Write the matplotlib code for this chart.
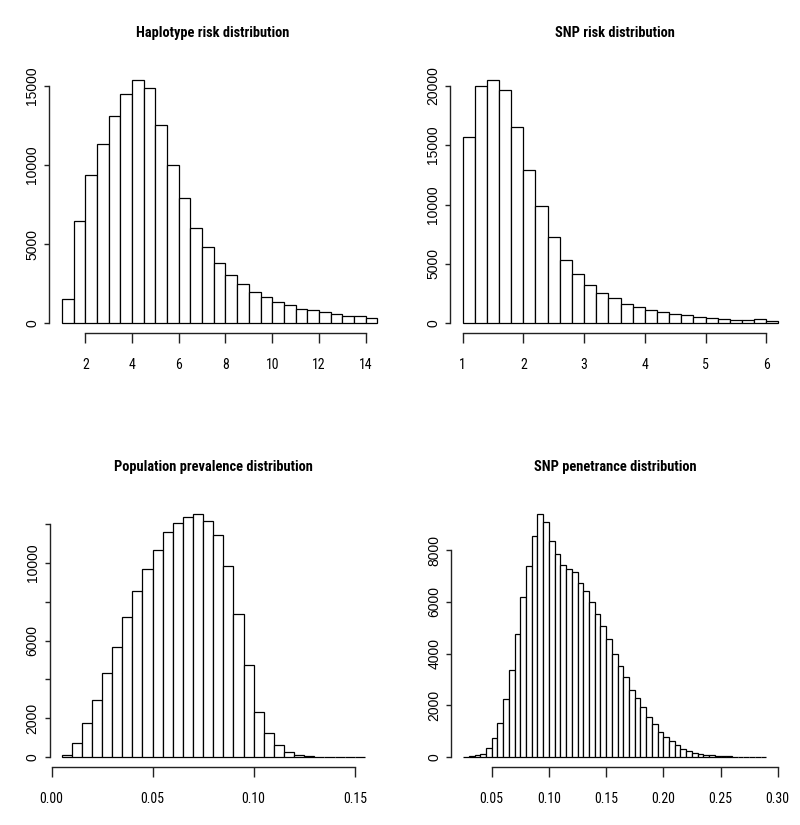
import matplotlib
matplotlib.use("Agg")
import matplotlib.pyplot as plt
from matplotlib import font_manager
import numpy as np

# ---------------- data ----------------
hap_title = "Haplotype risk distribution"
hap_start, hap_width = 1.0, 0.5
hap_counts = [1510, 6450, 9380, 11300, 13070, 14450, 15360, 14870, 12500, 10000,
              7890, 6020, 4820, 3810, 3070, 2500, 2000, 1640, 1370, 1140,
              930, 820, 720, 610, 460, 440, 340]
hap_xticks = [2, 4, 6, 8, 10, 12, 14]
hap_xlabels = ["2", "4", "6", "8", "10", "12", "14"]
hap_yticks = [0, 5000, 10000, 15000]
hap_ylabels = ["0", "5000", "10000", "15000"]

snp_title = "SNP risk distribution"
snp_start, snp_width = 1.0, 0.2
snp_counts = [15650, 19940, 20480, 19660, 16550, 12880, 9850, 7240, 5300, 4120,
              3200, 2580, 2100, 1630, 1370, 1150, 950, 810, 670, 560,
              420, 340, 310, 310, 340, 170]
snp_xticks = [1, 2, 3, 4, 5, 6]
snp_xlabels = ["1", "2", "3", "4", "5", "6"]
snp_yticks = [0, 5000, 10000, 15000, 20000]
snp_ylabels = ["0", "5000", "10000", "15000", "20000"]

prev_title = "Population prevalence distribution"
prev_start, prev_width = 0.005, 0.005
prev_counts = [100, 750, 1780, 2930, 4350, 5670, 7200, 8550, 9660, 10660,
               11600, 12060, 12370, 12520, 12150, 11410, 9830, 7380, 4750, 2350,
               1230, 610, 270, 120, 60, 25, 15, 10, 8, 5]
prev_xticks = [0.00, 0.05, 0.10, 0.15]
prev_xlabels = ["0.00", "0.05", "0.10", "0.15"]
prev_yticks = [0, 2000, 4000, 6000, 8000, 10000, 12000]
prev_ylabels = ["0", "2000", "", "6000", "", "10000", ""]

pen_title = "SNP penetrance distribution"
pen_start, pen_width = 0.025, 0.005
pen_counts = [20, 30, 90, 140, 360, 760, 1310, 2260, 3380, 4740,
              6200, 7370, 8560, 9400, 9080, 8330, 7860, 7440, 7280, 7140,
              6710, 6420, 6010, 5540, 5050, 4560, 4000, 3540, 3080, 2600,
              2270, 1950, 1570, 1280, 980, 790, 630, 460, 330, 250,
              180, 130, 90, 70, 55, 45, 35, 25, 20, 15,
              10, 8, 5]
pen_xticks = [0.05, 0.10, 0.15, 0.20, 0.25, 0.30]
pen_xlabels = ["0.05", "0.10", "0.15", "0.20", "0.25", "0.30"]
pen_yticks = [0, 2000, 4000, 6000, 8000]
pen_ylabels = ["0", "2000", "4000", "6000", "8000"]

# ---------------- fonts ----------------
names = {f.name for f in font_manager.fontManager.ttflist}
narrow = "Liberation Sans"
for cand in ["Liberation Sans Narrow", "Arial Narrow", "Roboto Condensed",
             "Archivo Narrow", "Barlow Semi Condensed", "Asap Condensed"]:
    if cand in names:
        narrow = cand
        break
if narrow == "Liberation Sans":
    title_size, xtick_size = 9.0, 8.0
else:
    title_size, xtick_size = 10.4, 10.0
regular = "Liberation Sans"

W, H = 800, 825
fig = plt.figure(figsize=(W / 100, H / 100), dpi=100)
fig.patch.set_facecolor("white")

# axes rectangles in pixel coords (left, right, top, bottom) from top-left
rects = [
    (49.3, 390.0, 70.3, 333.0),
    (450.0, 791.0, 70.3, 333.0),
    (49.5, 377.0, 504.0, 767.0),
    (451.0, 778.4, 504.0, 767.0),
]
title_pos = [(212.5, 33.3), (615.0, 33.3), (213.3, 466.7), (615.5, 466.7)]

panels = [
    (hap_title, hap_start, hap_width, hap_counts, hap_xticks, hap_xlabels, hap_yticks, hap_ylabels),
    (snp_title, snp_start, snp_width, snp_counts, snp_xticks, snp_xlabels, snp_yticks, snp_ylabels),
    (prev_title, prev_start, prev_width, prev_counts, prev_xticks, prev_xlabels, prev_yticks, prev_ylabels),
    (pen_title, pen_start, pen_width, pen_counts, pen_xticks, pen_xlabels, pen_yticks, pen_ylabels),
]

for (title, start, width, counts, xt, xl, yt, yl), (l, r, t, b), (tx, ty) in zip(panels, rects, title_pos):
    ax = fig.add_axes([l / W, 1 - b / H, (r - l) / W, (b - t) / H])
    counts = np.asarray(counts, dtype=float)
    edges = start + width * np.arange(len(counts) + 1)
    ax.bar(edges[:-1], counts, width=width, align="edge",
           facecolor="white", edgecolor="black", linewidth=0.9)
    lo, hi = edges[0], edges[-1]
    rng = hi - lo
    ax.set_xlim(lo - 0.04 * rng, hi + 0.04 * rng)
    ymax = counts.max()
    ax.set_ylim(-0.04 * ymax, 1.04 * ymax)

    for s in ["top", "right"]:
        ax.spines[s].set_visible(False)
    for s in ["left", "bottom"]:
        ax.spines[s].set_linewidth(1.0)
        ax.spines[s].set_color("#222222")
    ax.spines["left"].set_bounds(yt[0], yt[-1])
    ax.spines["bottom"].set_bounds(xt[0], xt[-1])

    ax.set_xticks(xt)
    ax.set_xticklabels(xl, fontfamily=narrow, fontsize=xtick_size)
    ax.set_yticks(yt)
    ax.set_yticklabels(yl, fontfamily=regular, fontsize=10, rotation=90, va="center")
    ax.tick_params(axis="x", length=7.2, width=1.0, pad=10.5, colors="#222222", labelcolor="black")
    ax.tick_params(axis="y", length=3.6, width=1.0, pad=3.5, colors="#222222", labelcolor="black")

    fig.text(tx / W, 1 - ty / H, title, ha="center", va="center",
             fontfamily=narrow, fontweight="bold", fontsize=title_size)

fig.savefig("out.png", dpi=100, facecolor="white")
